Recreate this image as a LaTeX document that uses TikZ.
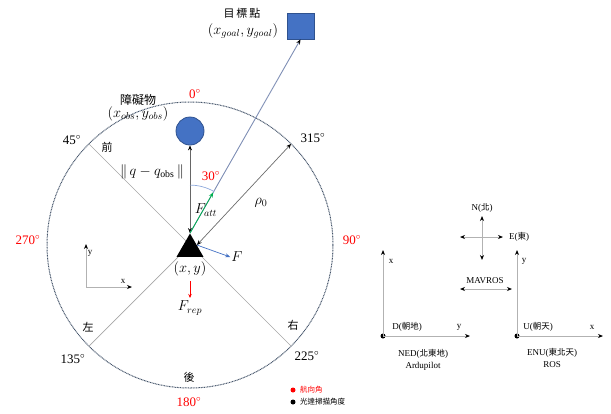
\documentclass[tikz,border=0pt]{standalone}
\usepackage{fontspec}
\setmainfont{Liberation Serif}
\newfontfamily\cjk{Noto Sans CJK TC}
\usetikzlibrary{arrows.meta,shapes.geometric,calc}
\definecolor{fillblue}{HTML}{4472C4}
\definecolor{edgeblue}{HTML}{2F528F}
\definecolor{ringc}{HTML}{44546A}
\definecolor{goalline}{HTML}{7F8FB5}
\definecolor{attgreen}{HTML}{00B050}
\begin{document}
\begin{tikzpicture}[x=1pt,y=-1pt,
  deg/.style={font=\fontsize{13}{13}\selectfont, inner sep=1pt},
  degred/.style={deg, text=red},
  cjklab/.style={font=\cjk\fontsize{11}{11}\selectfont, inner sep=1pt},
  mathlab/.style={font=\fontsize{14}{14}\selectfont, inner sep=1pt},
  smalllab/.style={font=\fontsize{9}{9}\selectfont, inner sep=1pt},
  tip/.style={-{Stealth[length=5pt,width=4pt,color=black]}},
  tips/.style={{Stealth[length=5pt,width=4pt,color=black]}-{Stealth[length=5pt,width=4pt,color=black]}},
  axisline/.style={draw=gray!60, line width=0.9pt},
  diag/.style={draw=gray!70, line width=0.7pt},
  dotmark/.style={circle, fill=black, inner sep=0pt, minimum size=5pt},
]
\useasboundingbox (0,0) rectangle (611,413);

% ring
\node[circle, draw=ringc, dash pattern=on 0.9pt off 0.7pt, line width=1pt, minimum size=286pt, inner sep=0pt, outer sep=0pt] (ring) at (190,245) {};
\coordinate (p45) at (ring.135);
\coordinate (p315) at (ring.45);
\coordinate (p135) at (ring.225);
\coordinate (p225) at (ring.-45);
\draw[diag] (p45) -- (p225);
\draw[diag] (p135) -- (ring.center);

% robot
\node[regular polygon, regular polygon sides=3, fill=black, minimum size=31pt, inner sep=0pt] (robot) at (190,249) {};
\coordinate (apex) at (robot.corner 1);
\coordinate (rside) at ($(robot.corner 1)!0.5!(robot.corner 3)$);

% obstacle and goal
\node[circle, fill=fillblue, draw=edgeblue, line width=0.8pt, minimum size=28pt, inner sep=0pt] (obs) at (190,131) {};
\node[rectangle, fill=fillblue, draw=edgeblue, line width=0.8pt, minimum width=27pt, minimum height=26pt, inner sep=0pt] (goal) at (300.5,26) {};

% connectors
\draw[tips, draw=gray!80!black, line width=0.7pt] (apex) -- (obs.south);
\draw[goalline, line width=0.9pt, -{Stealth[length=5pt,width=4pt,color=black]}] (apex) -- (goal.south);
\coordinate (gmid) at ($(apex)!0.21!(goal.south)$);
\draw[attgreen, line width=0.8pt, -{Stealth[length=5pt,width=4pt]}] (apex) -- (gmid);
\draw[tips, draw=gray!85!black, line width=0.7pt] (rside) -- (p315);
\draw[fillblue!60, line width=0.7pt] (apex) ++(0,-48) arc[start angle=90, end angle=60, radius=48pt];

% labels around ring
\node[degred] (l0) at (195,94) {0$^\circ$};
\node[degred] (l90) at (352,240) {90$^\circ$};
\node[degred] (l180) at (189,402) {180$^\circ$};
\node[degred] (l270) at (28,240) {270$^\circ$};
\node[deg] (l45) at (72,140) {45$^\circ$};
\node[deg] (l315) at (313,138) {315$^\circ$};
\node[deg] (l135) at (73,359) {135$^\circ$};
\node[deg] (l225) at (307,356) {225$^\circ$};
\node[cjklab] (front) at (107,147) {前};
\node[cjklab] (left) at (88,327) {左};
\node[cjklab] (right) at (293,325) {右};
\node[cjklab] (back) at (189,377) {後};

% obstacle / goal texts
\node[cjklab, font=\cjk\fontsize{12}{12}\selectfont] (obsname) at (138,100) {障礙物};
\node[mathlab] (obspos) at (138,114) {$(x_{obs}, y_{obs})$};
\node[cjklab] (goalname) at (242,13) {目\,標\,點};
\node[mathlab] (goalpos) at (243,31) {$(x_{goal}, y_{goal})$};

% force labels
\node[mathlab] (dist) at (152,172) {$\Vert\, q-q_{\mathrm{obs}}\,\Vert$};
\node[degred] (ang) at (211,176) {30$^\circ$};
\node[mathlab] (fatt) at (206,210) {$F_{att}$};
\node[mathlab] (rho) at (261,203) {$\rho_0$};
\node[mathlab] (fF) at (237,257) {$F$};
\draw[fillblue, line width=0.7pt, -{Stealth[length=5pt,width=4pt]}] (rside) -- (fF.west);
\node[mathlab] (xy) at (190,269) {$(x, y)$};
\coordinate (frs) at (190,281);
\coordinate (fre) at (190,298);
\node[mathlab] (frep) at (190,308) {$F_{rep}$};
\draw[red, line width=0.7pt, -{Stealth[length=4pt,width=3.5pt]}] (frs) -- (fre);

% small xy axes
\coordinate (o1) at (86,287);
\coordinate (o1y) at (86,244);
\coordinate (o1x) at (132,287);
\draw[axisline, tip] (o1) -- (o1y);
\draw[axisline, tip] (o1) -- (o1x);
\node[smalllab] (o1yl) at (90,253) {y};
\node[smalllab] (o1xl) at (123,281) {x};

% legend
\node[circle, fill=red, inner sep=0pt, minimum size=5pt] (ldot1) at (293,390) {};
\node[anchor=west, text=red, font=\cjk\fontsize{7.5}{7.5}\selectfont, inner sep=1pt] (lt1) at (299,390) {航向角};
\node[dotmark] (ldot2) at (293,402) {};
\node[anchor=west, font=\cjk\fontsize{7.5}{7.5}\selectfont, inner sep=1pt] (lt2) at (299,402) {光達掃描角度};

% NED frame
\node[dotmark] (ned) at (383,336) {};
\coordinate (nedx) at (383,250);
\coordinate (nedy) at (470,336);
\draw[axisline, tip] (ned.center) -- (nedx);
\draw[axisline, tip] (ned.center) -- (nedy);
\node[smalllab] (nedxl) at (391,261) {x};
\node[smalllab] (nedyl) at (459,327) {y};
\node[smalllab] (nedd) at (407,327) {D(\cjk\fontsize{8.5}{8.5}\selectfont 朝地\rmfamily\fontsize{9}{9}\selectfont)};
\node[smalllab] (nedn) at (423,354) {NED(\cjk\fontsize{8.5}{8.5}\selectfont 北東地\rmfamily\fontsize{9}{9}\selectfont)};
\node[smalllab] (neda) at (423,366) {Ardupilot};

% ENU frame
\node[dotmark] (enu) at (517,336) {};
\coordinate (enuy) at (517,250);
\coordinate (enux) at (603,336);
\draw[axisline, tip] (enu.center) -- (enuy);
\draw[axisline, tip] (enu.center) -- (enux);
\node[smalllab] (enuyl) at (524,261) {y};
\node[smalllab] (enuxl) at (592,327) {x};
\node[smalllab] (enuu) at (538,327) {U(\cjk\fontsize{8.5}{8.5}\selectfont 朝天\rmfamily\fontsize{9}{9}\selectfont)};
\node[smalllab] (enun) at (552,353) {ENU(\cjk\fontsize{8.5}{8.5}\selectfont 東北天\rmfamily\fontsize{9}{9}\selectfont)};
\node[smalllab] (enur) at (552,365) {ROS};

% compass
\coordinate (cn) at (482,216);
\coordinate (cs) at (482,260);
\coordinate (cw) at (460,237);
\coordinate (ce) at (503,237);
\draw[axisline, tips] (cn) -- (cs);
\draw[axisline, tips] (cw) -- (ce);
\node[smalllab] (nl) at (482,208) {N(\cjk\fontsize{8.5}{8.5}\selectfont 北\rmfamily\fontsize{9}{9}\selectfont)};
\node[smalllab] (el) at (519,237) {E(\cjk\fontsize{8.5}{8.5}\selectfont 東\rmfamily\fontsize{9}{9}\selectfont)};
\node[smalllab] (mav) at (485,281) {MAVROS};
\coordinate (m1) at (460,289);
\coordinate (m2) at (512,289);
\draw[axisline, tips] (m1) -- (m2);
\end{tikzpicture}
\end{document}
